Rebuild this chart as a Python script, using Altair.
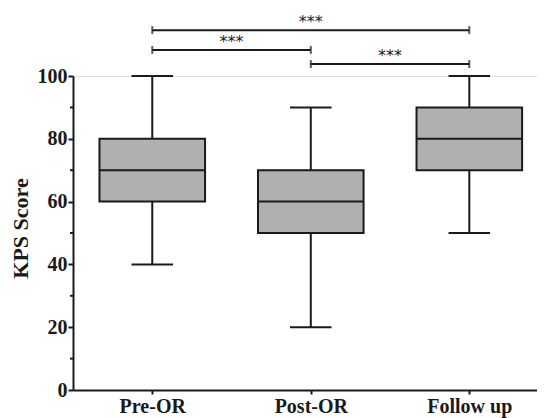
import json
import altair as alt
import pandas as pd

categories = ["Pre-OR", "Post-OR", "Follow up"]
mins = [40, 20, 50]
q1s = [60, 50, 70]
medians = [70, 60, 80]
q3s = [80, 70, 90]
maxs = [100, 90, 100]

br_start = [1, 1, 2]
br_end = [3, 2, 3]
br_level = [114.6, 108.3, 103.8]
br_label = ["***", "***", "***"]

major_ticks = [0, 20, 40, 60, 80, 100]
minor_ticks = [10, 30, 50, 70, 90]

BOX_HALF = 0.333
CAP_HALF = 0.131
INK = "#1a1a1a"
FONT = "Liberation Serif"

pos = [i + 1 for i in range(len(categories))]
box = pd.DataFrame({
    "cat": categories, "pos": pos, "min": mins, "q1": q1s, "med": medians,
    "q3": q3s, "max": maxs,
})
box["left"] = box["pos"] - BOX_HALF
box["right"] = box["pos"] + BOX_HALF
box["cl"] = box["pos"] - CAP_HALF
box["cr"] = box["pos"] + CAP_HALF

br = pd.DataFrame({"s": br_start, "e": br_end, "lvl": br_level, "lab": br_label})
br["mid"] = (br["s"] + br["e"]) / 2

xscale = alt.Scale(domain=[0.5, 3.427], nice=False, zero=False)
yscale = alt.Scale(domain=[0, 100], nice=False, zero=True)

label_expr = json.dumps(categories) + "[datum.value - 1]"

xaxis = alt.Axis(values=pos, labelExpr=label_expr, title=None, grid=False,
                 domainColor=INK, domainWidth=2, tickColor=INK, tickWidth=2,
                 tickSize=4, labelFont=FONT, labelFontSize=20, labelFontWeight="bold",
                 labelColor=INK, labelPadding=2)
yaxis = alt.Axis(values=major_ticks, title="KPS Score", grid=False,
                 domainColor=INK, domainWidth=2, tickColor=INK, tickWidth=2,
                 tickSize=5, labelFont=FONT, labelFontSize=20, labelFontWeight="bold",
                 labelColor=INK, labelPadding=1, titleFont=FONT, titleFontSize=22,
                 titleFontWeight="bold", titleColor=INK, titleAngle=270,
                 titleX=-46, titleY=152, titleAlign="center", titleBaseline="alphabetic")

base = alt.Chart(box)

rects = base.mark_rect(fill="#b0b0b0", stroke=INK, strokeWidth=2).encode(
    x=alt.X("left:Q", scale=xscale, axis=xaxis), x2="right:Q",
    y=alt.Y("q1:Q", scale=yscale, axis=yaxis), y2="q3:Q")
med_line = base.mark_rule(color=INK, strokeWidth=2).encode(
    x=alt.X("left:Q", scale=xscale), x2="right:Q", y=alt.Y("med:Q", scale=yscale))
wh_low = base.mark_rule(color=INK, strokeWidth=2).encode(
    x=alt.X("pos:Q", scale=xscale), y=alt.Y("min:Q", scale=yscale), y2="q1:Q")
wh_high = base.mark_rule(color=INK, strokeWidth=2).encode(
    x=alt.X("pos:Q", scale=xscale), y=alt.Y("q3:Q", scale=yscale), y2="max:Q")
cap_low = base.mark_rule(color=INK, strokeWidth=2).encode(
    x=alt.X("cl:Q", scale=xscale), x2="cr:Q", y=alt.Y("min:Q", scale=yscale))
cap_high = base.mark_rule(color=INK, strokeWidth=2).encode(
    x=alt.X("cl:Q", scale=xscale), x2="cr:Q", y=alt.Y("max:Q", scale=yscale))

minor = alt.Chart(pd.DataFrame({"v": minor_ticks})).mark_rule(color=INK, strokeWidth=2).encode(
    x=alt.value(-3), x2=alt.value(0), y=alt.Y("v:Q", scale=yscale))

bchart = alt.Chart(br)
b_line = bchart.mark_rule(color=INK, strokeWidth=2).encode(
    x=alt.X("s:Q", scale=xscale), x2="e:Q", y=alt.Y("lvl:Q", scale=yscale))
b_capl = bchart.mark_tick(color=INK, thickness=2, size=8, orient="vertical").encode(
    x=alt.X("s:Q", scale=xscale), y=alt.Y("lvl:Q", scale=yscale))
b_capr = bchart.mark_tick(color=INK, thickness=2, size=8, orient="vertical").encode(
    x=alt.X("e:Q", scale=xscale), y=alt.Y("lvl:Q", scale=yscale))
b_text = bchart.mark_text(font="DejaVu Sans", fontSize=16, color=INK, baseline="bottom", dy=0).encode(
    x=alt.X("mid:Q", scale=xscale), y=alt.Y("lvl:Q", scale=yscale), text="lab:N")

chart = alt.layer(rects, wh_low, wh_high, cap_low, cap_high, med_line, minor,
                  b_line, b_capl, b_capr, b_text).properties(
    width=464, height=314,
    autosize=alt.AutoSizeParams(type="none"),
    padding={"left": 65, "top": 68, "right": 0, "bottom": 28},
).configure_view(stroke=None).configure(background="white")

chart.save("out.html", embed_options={"renderer": "svg", "actions": False})
